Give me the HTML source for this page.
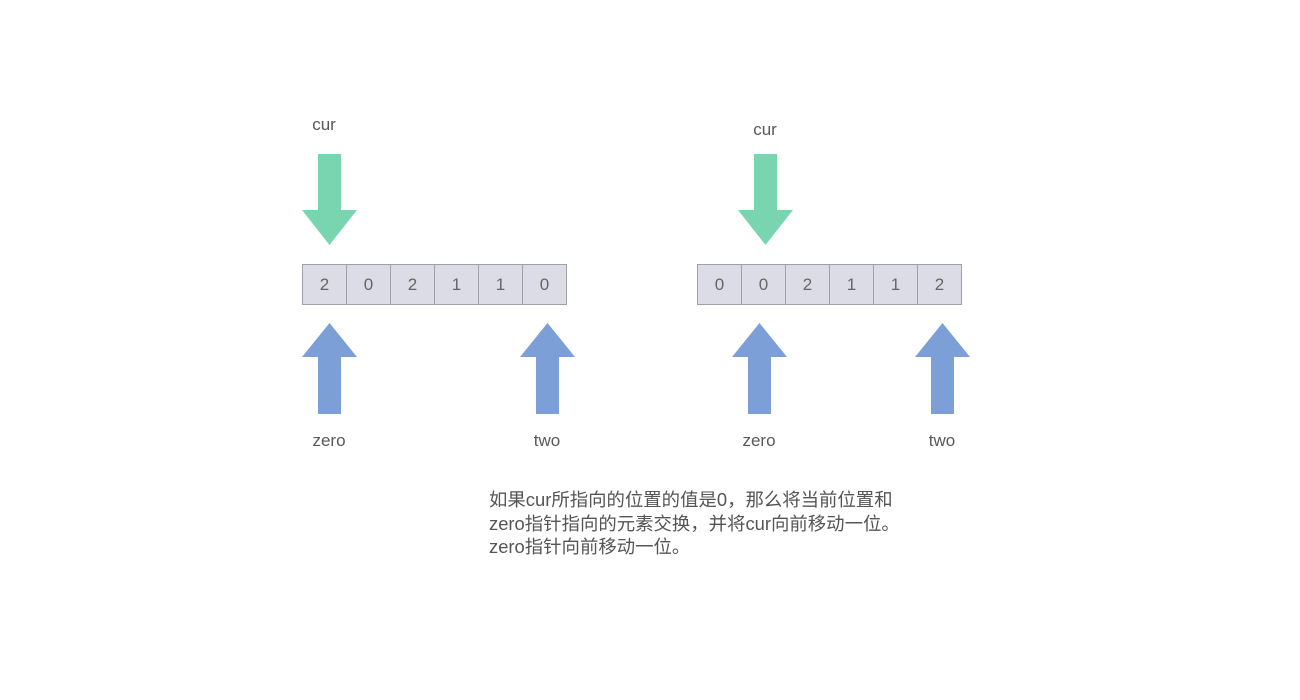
<!DOCTYPE html>
<html><head><meta charset="utf-8"><style>
body{margin:0;background:#fff;width:1300px;height:700px;overflow:hidden;position:relative;font-family:"Liberation Sans","Noto Sans CJK SC",sans-serif;color:#595959}
.t{position:absolute;font-size:17px;transform:translate(-50%,-50%);white-space:nowrap}
.cell{position:absolute;top:264px;width:43px;height:39px;background:#dcdce6;border:1px solid #a0a0a8;text-align:center;line-height:40px;font-size:17px;color:#666}
.p{position:absolute;left:489px;top:488px;font-size:18.4px;line-height:23.5px;color:#555;white-space:nowrap}
</style></head><body>
<svg width="1300" height="700" style="position:absolute;left:0;top:0">
<g fill="#79d5b0">
<polygon points="318,154 341,154 341,210 357,210 329.5,245 302,210 318,210"/>
<polygon points="754,154 777,154 777,210 793,210 765.5,245 738,210 754,210"/>
</g>
<g fill="#7b9fd6">
<polygon points="329.5,323 357,357 341,357 341,414 318,414 318,357 302,357"/>
<polygon points="547.5,323 575,357 559,357 559,414 536,414 536,357 520,357"/>
<polygon points="759.5,323 787,357 771,357 771,414 748,414 748,357 732,357"/>
<polygon points="942.5,323 970,357 954,357 954,414 931,414 931,357 915,357"/>
</g>
</svg>
<div class="t" style="left:324px;top:125px">cur</div>
<div class="t" style="left:765px;top:130px">cur</div>
<div class="t" style="left:329px;top:441px">zero</div>
<div class="t" style="left:547px;top:441px">two</div>
<div class="t" style="left:759px;top:441px">zero</div>
<div class="t" style="left:942px;top:441px">two</div>
<div class="cell" style="left:302px">2</div>
<div class="cell" style="left:346px">0</div>
<div class="cell" style="left:390px">2</div>
<div class="cell" style="left:434px">1</div>
<div class="cell" style="left:478px">1</div>
<div class="cell" style="left:522px">0</div>
<div class="cell" style="left:697px">0</div>
<div class="cell" style="left:741px">0</div>
<div class="cell" style="left:785px">2</div>
<div class="cell" style="left:829px">1</div>
<div class="cell" style="left:873px">1</div>
<div class="cell" style="left:917px">2</div>
<div class="p">如果cur所指向的位置的值是0，那么将当前位置和<br>zero指针指向的元素交换，并将cur向前移动一位。<br>zero指针向前移动一位。</div>
</body></html>
